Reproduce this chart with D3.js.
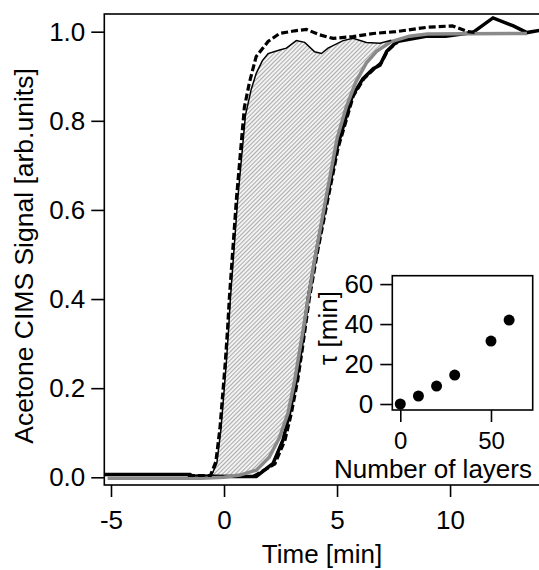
<!DOCTYPE html>
<html>
<head>
<meta charset="utf-8">
<script src="https://cdn.jsdelivr.net/npm/d3@7"></script>
<style>
  body { margin: 0; background: #fff; }
  text { font-family: "Liberation Sans", Arial, sans-serif; }
</style>
</head>
<body>
<div id="viz"></div>
<script>
// early response, thin solid line  [time (min), signal]
const earlyThin = [
  [-1.6, 0.004], [-0.56, 0.004], [-0.32, 0.031], [-0.14, 0.106], [-0.02, 0.18],
  [0.1, 0.256], [0.2, 0.33], [0.28, 0.40], [0.6, 0.62], [0.95, 0.813],
  [1.2, 0.87], [1.43, 0.907], [1.7, 0.935], [1.95, 0.951], [2.46, 0.959], [2.76, 0.963],
  [3.2, 0.98], [3.57, 0.976], [4.01, 0.955], [4.31, 0.951], [4.6, 0.963],
  [5.27, 0.98], [5.71, 0.985], [6.3, 0.976], [6.9, 0.974], [7.4, 0.981]
]
// early response, dashed line
const earlyDashed = [
  [-1.6, 0.004], [-0.6, 0.004], [-0.36, 0.035], [-0.18, 0.11], [-0.06, 0.185],
  [0.06, 0.26], [0.16, 0.335], [0.24, 0.405], [0.55, 0.625], [0.9, 0.83],
  [1.12, 0.885], [1.42, 0.944], [1.95, 0.978], [2.46, 0.996], [3.13, 1.002],
  [3.65, 1.005], [4.23, 0.993], [4.82, 0.985], [5.7, 0.989], [6.6, 0.996],
  [7.6, 1.0], [9.0, 1.01], [10.1, 1.013], [10.8, 1.0], [11.2, 0.998]
]
// late response, thick solid line
const lateThick = [
  [-5.3, 0.006], [-1.5, 0.006], [-1.4, 0.003], [0.5, 0.002], [1.43, 0.002],
  [2.17, 0.031], [2.61, 0.084], [2.9, 0.144], [3.2, 0.218], [3.42, 0.29],
  [3.72, 0.40], [4.1, 0.51], [4.53, 0.62], [5.0, 0.74], [5.35, 0.80],
  [5.68, 0.856], [6.14, 0.894], [6.6, 0.917], [6.9, 0.925], [7.2, 0.956],
  [7.65, 0.978], [9.0, 0.99], [9.8, 0.99], [11.0, 0.998], [11.9, 1.031],
  [12.8, 1.013], [13.4, 0.998], [14.2, 1.005]
]
// late response, dashed line
const lateDashed = [
  [1.3, 0.002], [2.25, 0.03], [2.7, 0.084], [2.98, 0.144], [3.26, 0.218],
  [3.47, 0.29], [3.77, 0.40], [4.15, 0.51], [4.58, 0.62], [5.05, 0.74],
  [5.4, 0.80], [5.72, 0.856], [6.18, 0.894], [6.65, 0.917], [6.95, 0.93],
  [7.25, 0.958], [7.7, 0.978]
]
// fit, grey line
const fitGrey = [
  [-5.15, -0.002], [-1.0, -0.002], [0.0, 0.0], [0.7, 0.005], [1.43, 0.016],
  [2.0, 0.045], [2.46, 0.09], [2.83, 0.144], [3.13, 0.218], [3.35, 0.286],
  [3.5, 0.33], [3.72, 0.40], [4.05, 0.50], [4.45, 0.61], [5.0, 0.76],
  [5.4, 0.83], [5.83, 0.887], [6.3, 0.93], [6.75, 0.956], [7.4, 0.978],
  [8.2, 0.99], [9.0, 0.995], [13.4, 0.996]
]

// inset: tau vs number of layers
const layers = [0, 10, 20, 30, 50, 60]
const tau = [0, 4, 9, 14.5, 31.5, 42]

const xTicks = [-5, 0, 5, 10]
const yTicks = [0, 0.2, 0.4, 0.6, 0.8, 1.0]
const insetXTicks = [0, 50]
const insetYTicks = [0, 20, 40, 60]

const width = 539
const height = 570

const svg = d3.select("#viz").append("svg")
  .attr("width", width)
  .attr("height", height)

const mLeft = 104.3, mTop = 14, mRight = 545, mBottom = 485

const x = d3.scaleLinear().domain([-5.296, 14.2]).range([mLeft, mRight])
const y = d3.scaleLinear().domain([-0.0173, 1.0397]).range([mBottom, mTop])

// hatch pattern
const defs = svg.append("defs")
const pat = defs.append("pattern")
  .attr("id", "hatch")
  .attr("patternUnits", "userSpaceOnUse")
  .attr("width", 3)
  .attr("height", 3)
  .attr("patternTransform", "rotate(45)")
pat.append("rect").attr("width", 3).attr("height", 3).attr("fill", "#f2f2f2")
pat.append("line")
  .attr("x1", 0).attr("y1", 0).attr("x2", 0).attr("y2", 3)
  .attr("stroke", "#8e8e8e").attr("stroke-width", 1.4)

const line = d3.line().x(d => x(d[0])).y(d => y(d[1]))

// hatched region between early curve and fit
const hatchPts = earlyThin.filter(d => d[0] >= -0.56)
  .concat(fitGrey.filter(d => d[0] >= -0.56 && d[0] <= 7.4).reverse())
svg.append("path")
  .attr("d", line(hatchPts) + "Z")
  .attr("fill", "url(#hatch)")
  .attr("stroke", "none")

svg.append("path").attr("d", line(lateThick))
  .attr("fill", "none").attr("stroke", "#000").attr("stroke-width", 3.5)
svg.append("path").attr("d", line(lateDashed))
  .attr("fill", "none").attr("stroke", "#000").attr("stroke-width", 3.2)
  .attr("stroke-dasharray", "7,3")
svg.append("path").attr("d", line(fitGrey))
  .attr("fill", "none").attr("stroke", "#8a8a8a").attr("stroke-width", 3.5)
svg.append("path").attr("d", line(earlyThin))
  .attr("fill", "none").attr("stroke", "#000").attr("stroke-width", 1.5)
svg.append("path").attr("d", line(earlyDashed))
  .attr("fill", "none").attr("stroke", "#000").attr("stroke-width", 3.2)
  .attr("stroke-dasharray", "7,3")

// frame
svg.append("rect")
  .attr("x", mLeft).attr("y", mTop)
  .attr("width", mRight - mLeft).attr("height", mBottom - mTop)
  .attr("fill", "none").attr("stroke", "#000").attr("stroke-width", 1.6)

const hyphen = d => String(d).replace("\u2212", "-")

const xAxis = svg.append("g")
  .attr("transform", `translate(0,${mBottom})`)
  .call(d3.axisBottom(x).tickValues(xTicks).tickSize(12).tickPadding(14).tickFormat(d => hyphen(d3.format("d")(d))))
const yAxis = svg.append("g")
  .attr("transform", `translate(${mLeft},0)`)
  .call(d3.axisLeft(y).tickValues(yTicks).tickSize(13).tickPadding(6).tickFormat(d3.format(".1f")))

svg.selectAll(".domain").remove()
svg.selectAll(".tick line").attr("stroke", "#000").attr("stroke-width", 1.6)
svg.selectAll(".tick text").attr("fill", "#000").style("font-size", "26px")

svg.append("text")
  .attr("x", 322).attr("y", 563)
  .attr("text-anchor", "middle")
  .style("font-size", "26px")
  .text("Time [min]")

svg.append("text")
  .attr("transform", "translate(32.5,256) rotate(-90)")
  .attr("text-anchor", "middle")
  .style("font-size", "26.5px")
  .text("Acetone CIMS Signal [arb.units]")

// inset
const iL = 392.3, iR = 532.7, iT = 275.7, iB = 410
const xi = d3.scaleLinear().domain([-4.4, 73]).range([iL, iR])
const yi = d3.scaleLinear().domain([-3, 64.2]).range([iB, iT])

const inset = svg.append("g")
inset.append("rect")
  .attr("x", iL).attr("y", iT)
  .attr("width", iR - iL).attr("height", iB - iT)
  .attr("fill", "#fff").attr("stroke", "#000").attr("stroke-width", 1.6)

inset.selectAll("circle")
  .data(layers)
  .enter()
  .append("circle")
  .attr("cx", d => xi(d))
  .attr("cy", (d, i) => yi(tau[i]))
  .attr("r", 5.5)
  .attr("fill", "#000")

const ixAxis = inset.append("g")
  .attr("transform", `translate(0,${iB})`)
  .call(d3.axisBottom(xi).tickValues(insetXTicks).tickSize(12).tickPadding(10))
const iyAxis = inset.append("g")
  .attr("transform", `translate(${iL},0)`)
  .call(d3.axisLeft(yi).tickValues(insetYTicks).tickSize(12).tickPadding(7))
inset.selectAll(".domain").remove()
inset.selectAll(".tick line").attr("stroke", "#000").attr("stroke-width", 1.6)
iyAxis.selectAll(".tick text").attr("fill", "#000").style("font-size", "26px")
ixAxis.selectAll(".tick text").attr("fill", "#000").style("font-size", "24px")

inset.append("text")
  .attr("x", 433).attr("y", 478)
  .attr("text-anchor", "middle")
  .style("font-size", "26px")
  .text("Number of layers")

inset.append("text")
  .attr("transform", "translate(337,328) rotate(-90)")
  .attr("text-anchor", "middle")
  .style("font-size", "26px")
  .text("τ [min]")
</script>
</body>
</html>
